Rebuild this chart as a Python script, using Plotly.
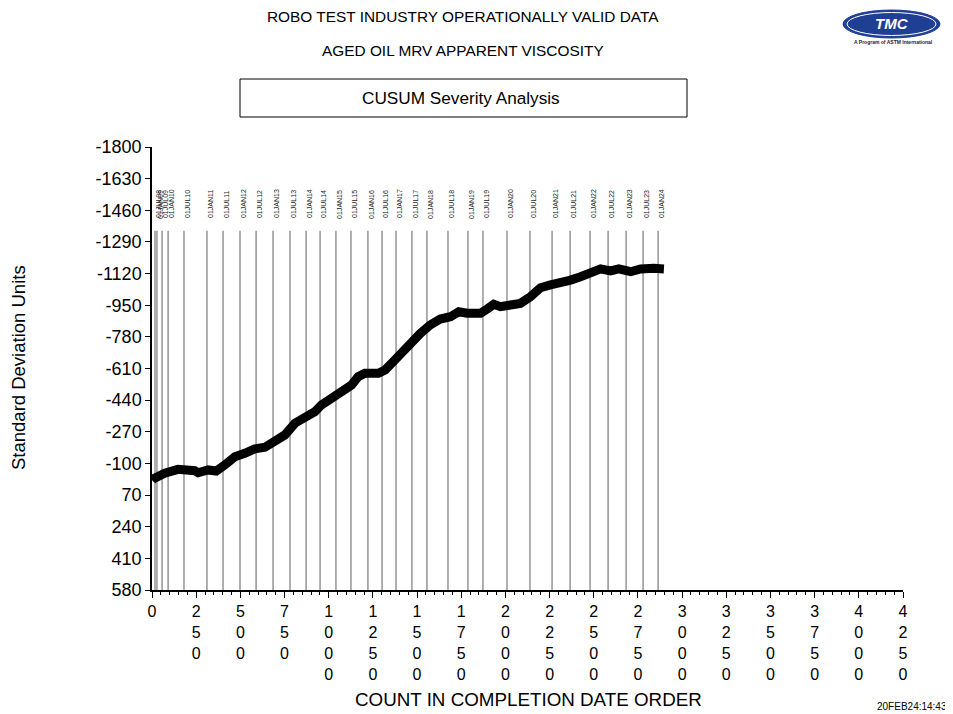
import plotly.graph_objects as go

# ---------------- data ----------------
count = [0, 6, 72, 147, 242, 261, 317, 363, 412, 469, 525, 582, 639, 695, 752, 809,
         865, 922, 959, 1016, 1073, 1129, 1167, 1205, 1281, 1319, 1375, 1432, 1519,
         1575, 1632, 1689, 1736, 1783, 1859, 1897, 1934, 1972, 2029, 2085, 2142, 2199,
         2255, 2312, 2369, 2425, 2482, 2539, 2595, 2642, 2709, 2765, 2841, 2897]
cusum = [-10, -16, -47, -68, -61, -50, -65, -59, -92, -136, -154, -178, -187, -217,
         -253, -316, -342, -378, -414, -450, -485, -521, -566, -584, -584, -602, -656,
         -719, -799, -844, -876, -888, -915, -907, -907, -930, -955, -942, -946, -960,
         -996, -1044, -1059, -1068, -1085, -1103, -1121, -1145, -1134, -1145, -1130,
         -1145, -1148, -1145]

date_labels = ["01JUL08", "01JAN09", "01JUL09", "01JAN10", "01JUL10", "01JAN11",
               "01JUL11", "01JAN12", "01JUL12", "01JAN13", "01JUL13", "01JAN14",
               "01JUL14", "01JAN15", "01JUL15", "01JAN16", "01JUL16", "01JAN17",
               "01JUL17", "01JAN18", "01JUL18", "01JAN19", "01JUL19", "01JAN20",
               "01JUL20", "01JAN21", "01JUL21", "01JAN22", "01JUL22", "01JAN23",
               "01JUL23", "01JAN24"]
date_counts = [17, 28, 57, 91, 181, 311, 402, 498, 589, 685, 781, 872, 951, 1041,
               1126, 1222, 1302, 1381, 1471, 1556, 1675, 1788, 1873, 2009, 2139, 2264,
               2366, 2479, 2581, 2683, 2779, 2864]

y_ticks = [-1800, -1630, -1460, -1290, -1120, -950, -780, -610, -440, -270, -100, 70,
           240, 410, 580]
y_ticktext = [str(v) for v in y_ticks]
x_ticks = [0, 250, 500, 750, 1000, 1250, 1500, 1750, 2000, 2250, 2500, 2750, 3000,
           3250, 3500, 3750, 4000, 4250]
x_ticktext = ["<br>".join(str(v)) for v in x_ticks]

line_top = -1350
label_y = -1494

# ---------------- layout helpers ----------------
OFF = 8  # page body margin
W, H = 953 - OFF, 714 - OFF
L, R, T, B = 152 - OFF, 903 - OFF, 147 - OFF, 590 - OFF


def px(x):
    return (x - OFF - L) / (R - L)


def py(y):
    return (B - (y - OFF)) / (B - T)


FONT = "Liberation Sans, Arial, sans-serif"


def note(x, y, text, size, color="black", angle=0):
    return dict(xref="paper", yref="paper", x=px(x), y=py(y), text=text,
                xanchor="center", yanchor="middle", textangle=angle, showarrow=False,
                font=dict(family=FONT, size=size, color=color))


fig = go.Figure()

shapes = []
annotations = []
for c, lab in zip(date_counts, date_labels):
    shapes.append(dict(type="line", xref="x", yref="y", x0=c, x1=c, y0=580, y1=line_top,
                       line=dict(color="#7a7a7a", width=1.2), layer="below"))
    annotations.append(dict(x=c, y=label_y, xref="x", yref="y", text=lab, textangle=-90,
                            xanchor="center", yanchor="middle",
                            showarrow=False, xshift=4,
                            font=dict(family=FONT, size=7, color="#222222")))

fig.add_trace(go.Scatter(x=count, y=cusum, mode="lines",
                         line=dict(color="black", width=9, shape="linear"),
                         hoverinfo="skip", showlegend=False))

annotations += [
    note(463, 17, "ROBO TEST INDUSTRY OPERATIONALLY VALID DATA", 15.4),
    note(463, 51, "AGED OIL MRV APPARENT VISCOSITY", 15.4),
    note(461, 98, "CUSUM Severity Analysis", 17.2),
    note(912, 706, "20FEB24:14:43", 10),
    note(18, 368, "Standard Deviation Units", 18.5, angle=-90),
    note(528, 699, "COUNT IN COMPLETION DATE ORDER", 18.8),
    note(892, 24, "<b><i>TMC</i></b>", 15, color="white"),
    note(893, 42, "<b>A Program of ASTM International</b>", 5, color="#1a1a40"),
]

shapes += [
    dict(type="rect", xref="paper", yref="paper", x0=px(240), x1=px(687), y0=py(117), y1=py(79),
         line=dict(color="black", width=1)),
    dict(type="circle", xref="paper", yref="paper", x0=px(843), x1=px(940), y0=py(38), y1=py(10),
         fillcolor="#1f3f94", line=dict(color="#1f3f94", width=1)),
    dict(type="circle", xref="paper", yref="paper", x0=px(847), x1=px(936), y0=py(35.5), y1=py(12.5),
         fillcolor="rgba(0,0,0,0)", line=dict(color="white", width=1)),
]

fig.update_layout(
    width=W, height=H,
    margin=dict(l=L, r=W - R, t=T, b=H - B, pad=0),
    paper_bgcolor="white", plot_bgcolor="white",
    shapes=shapes, annotations=annotations,
    showlegend=False,
    xaxis=dict(range=[0, 4250], tickmode="array", tickvals=x_ticks, ticktext=x_ticktext,
               showgrid=False, zeroline=False, showline=True, linecolor="black", linewidth=2,
               ticks="outside", ticklen=6, tickwidth=1, tickcolor="black",
               minor=dict(dtick=50, ticks="outside", ticklen=3, tickcolor="black", showgrid=False),
               tickfont=dict(family=FONT, size=16, color="black"), tickangle=0),
    yaxis=dict(range=[580, -1800], tickmode="array", tickvals=y_ticks, ticktext=y_ticktext,
               showgrid=False, zeroline=False, showline=True, linecolor="black", linewidth=1.5,
               ticks="outside", ticklen=5, tickcolor="black",
               tickfont=dict(family=FONT, size=18, color="black")),
)

fig.write_html("out.html")
